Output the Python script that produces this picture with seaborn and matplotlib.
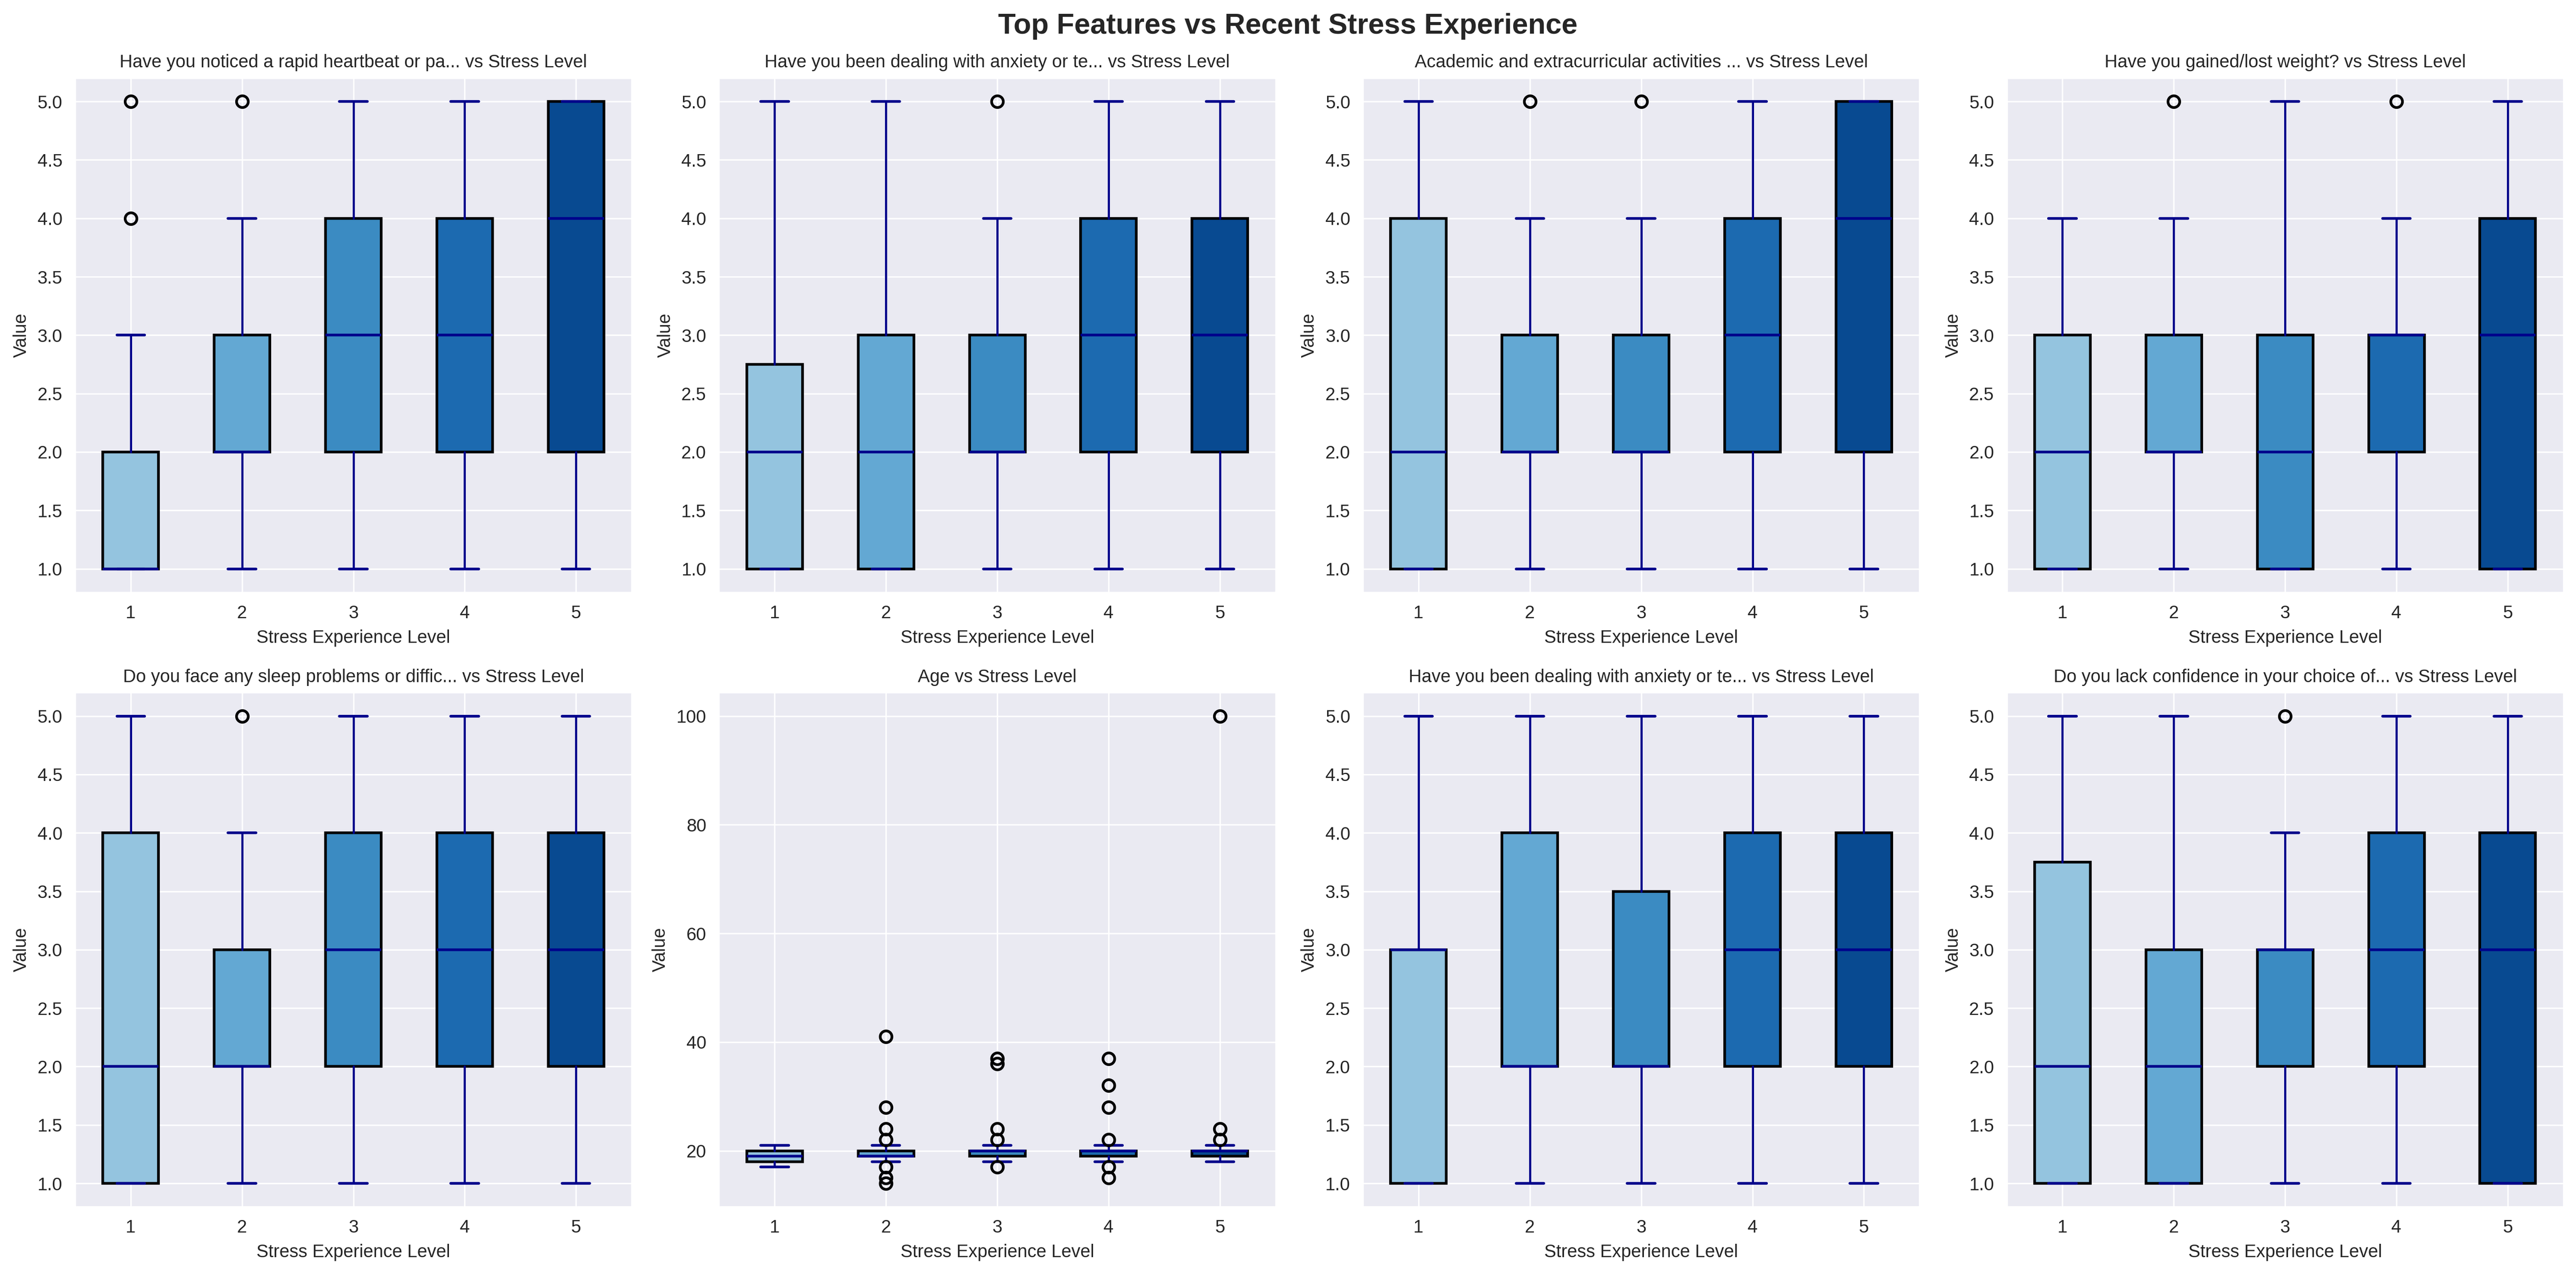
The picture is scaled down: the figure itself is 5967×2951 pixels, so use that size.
import numpy as np
import matplotlib
matplotlib.use("Agg")
import matplotlib.pyplot as plt
import seaborn as sns

# stress experience levels on the x axis
levels = [1, 2, 3, 4, 5]

# box statistics, one list per statistic per panel
heartbeat_lo = [1, 1, 1, 1, 1]
heartbeat_q1 = [1, 2, 2, 2, 2]
heartbeat_med = [1, 2, 3, 3, 4]
heartbeat_q3 = [2, 3, 4, 4, 5]
heartbeat_hi = [3, 4, 5, 5, 5]
heartbeat_out = [[4, 5], [5], [], [], []]

anxiety_lo = [1, 1, 1, 1, 1]
anxiety_q1 = [1, 1, 2, 2, 2]
anxiety_med = [2, 2, 2, 3, 3]
anxiety_q3 = [2.75, 3, 3, 4, 4]
anxiety_hi = [5, 5, 4, 5, 5]
anxiety_out = [[], [], [5], [], []]

academic_lo = [1, 1, 1, 1, 1]
academic_q1 = [1, 2, 2, 2, 2]
academic_med = [2, 2, 2, 3, 4]
academic_q3 = [4, 3, 3, 4, 5]
academic_hi = [5, 4, 4, 5, 5]
academic_out = [[], [5], [5], [], []]

weight_lo = [1, 1, 1, 1, 1]
weight_q1 = [1, 2, 1, 2, 1]
weight_med = [2, 2, 2, 3, 3]
weight_q3 = [3, 3, 3, 3, 4]
weight_hi = [4, 4, 5, 4, 5]
weight_out = [[], [5], [], [5], []]

sleep_lo = [1, 1, 1, 1, 1]
sleep_q1 = [1, 2, 2, 2, 2]
sleep_med = [2, 2, 3, 3, 3]
sleep_q3 = [4, 3, 4, 4, 4]
sleep_hi = [5, 4, 5, 5, 5]
sleep_out = [[], [5], [], [], []]

age_lo = [17, 18, 18, 18, 18]
age_q1 = [18, 19, 19, 19, 19]
age_med = [19, 19, 20, 20, 20]
age_q3 = [20, 20, 20, 20, 20]
age_hi = [21, 21, 21, 21, 21]
age_out = [[], [14, 15, 17, 22, 24, 28, 41], [17, 22, 24, 36, 37],
           [15, 17, 22, 28, 32, 37], [22, 24, 100]]

anxiety2_lo = [1, 1, 1, 1, 1]
anxiety2_q1 = [1, 2, 2, 2, 2]
anxiety2_med = [3, 2, 2, 3, 3]
anxiety2_q3 = [3, 4, 3.5, 4, 4]
anxiety2_hi = [5, 5, 5, 5, 5]
anxiety2_out = [[], [], [], [], []]

confidence_lo = [1, 1, 1, 1, 1]
confidence_q1 = [1, 1, 2, 2, 1]
confidence_med = [2, 2, 3, 3, 3]
confidence_q3 = [3.75, 3, 3, 4, 4]
confidence_hi = [5, 5, 4, 5, 5]
confidence_out = [[], [], [5], [], []]

titles = [
    "Have you noticed a rapid heartbeat or pa... vs Stress Level",
    "Have you been dealing with anxiety or te... vs Stress Level",
    "Academic and extracurricular activities ... vs Stress Level",
    "Have you gained/lost weight? vs Stress Level",
    "Do you face any sleep problems or diffic... vs Stress Level",
    "Age vs Stress Level",
    "Have you been dealing with anxiety or te... vs Stress Level",
    "Do you lack confidence in your choice of... vs Stress Level",
]

panels = [
    (heartbeat_lo, heartbeat_q1, heartbeat_med, heartbeat_q3, heartbeat_hi, heartbeat_out),
    (anxiety_lo, anxiety_q1, anxiety_med, anxiety_q3, anxiety_hi, anxiety_out),
    (academic_lo, academic_q1, academic_med, academic_q3, academic_hi, academic_out),
    (weight_lo, weight_q1, weight_med, weight_q3, weight_hi, weight_out),
    (sleep_lo, sleep_q1, sleep_med, sleep_q3, sleep_hi, sleep_out),
    (age_lo, age_q1, age_med, age_q3, age_hi, age_out),
    (anxiety2_lo, anxiety2_q1, anxiety2_med, anxiety2_q3, anxiety2_hi, anxiety2_out),
    (confidence_lo, confidence_q1, confidence_med, confidence_q3, confidence_hi, confidence_out),
]

sns.set_style("darkgrid")
plt.rcParams['font.family'] = ['Liberation Sans', 'DejaVu Sans']

blues = sns.color_palette("Blues", as_cmap=True)
colors = blues(np.linspace(0.4, 0.9, 5))

fig, axes = plt.subplots(2, 4, figsize=(20, 10))

for ax, title, (lo, q1, med, q3, hi, out) in zip(axes.flat, titles, panels):
    stats = []
    for i, lvl in enumerate(levels):
        stats.append({'label': str(lvl), 'whislo': lo[i], 'q1': q1[i], 'med': med[i],
                      'q3': q3[i], 'whishi': hi[i], 'fliers': out[i]})
    bp = ax.bxp(stats, positions=levels, widths=0.5, patch_artist=True,
                boxprops=dict(edgecolor='black', linewidth=1.5),
                medianprops=dict(color='darkblue', linewidth=1.5),
                whiskerprops=dict(color='darkblue', linewidth=1.2),
                capprops=dict(color='darkblue', linewidth=1.5),
                flierprops=dict(marker='o', markerfacecolor='none',
                                markeredgecolor='black', markersize=6.5,
                                markeredgewidth=1.5))
    for patch, c in zip(bp['boxes'], colors):
        patch.set_facecolor(c)
    ax.set_title(title, fontsize=10)
    ax.set_xlabel('Stress Experience Level')
    ax.set_ylabel('Value')

fig.suptitle('Top Features vs Recent Stress Experience', fontsize=16, fontweight='bold')
plt.tight_layout()
plt.savefig('out.png', dpi=300, bbox_inches='tight', pad_inches=0.1)
plt.close()
